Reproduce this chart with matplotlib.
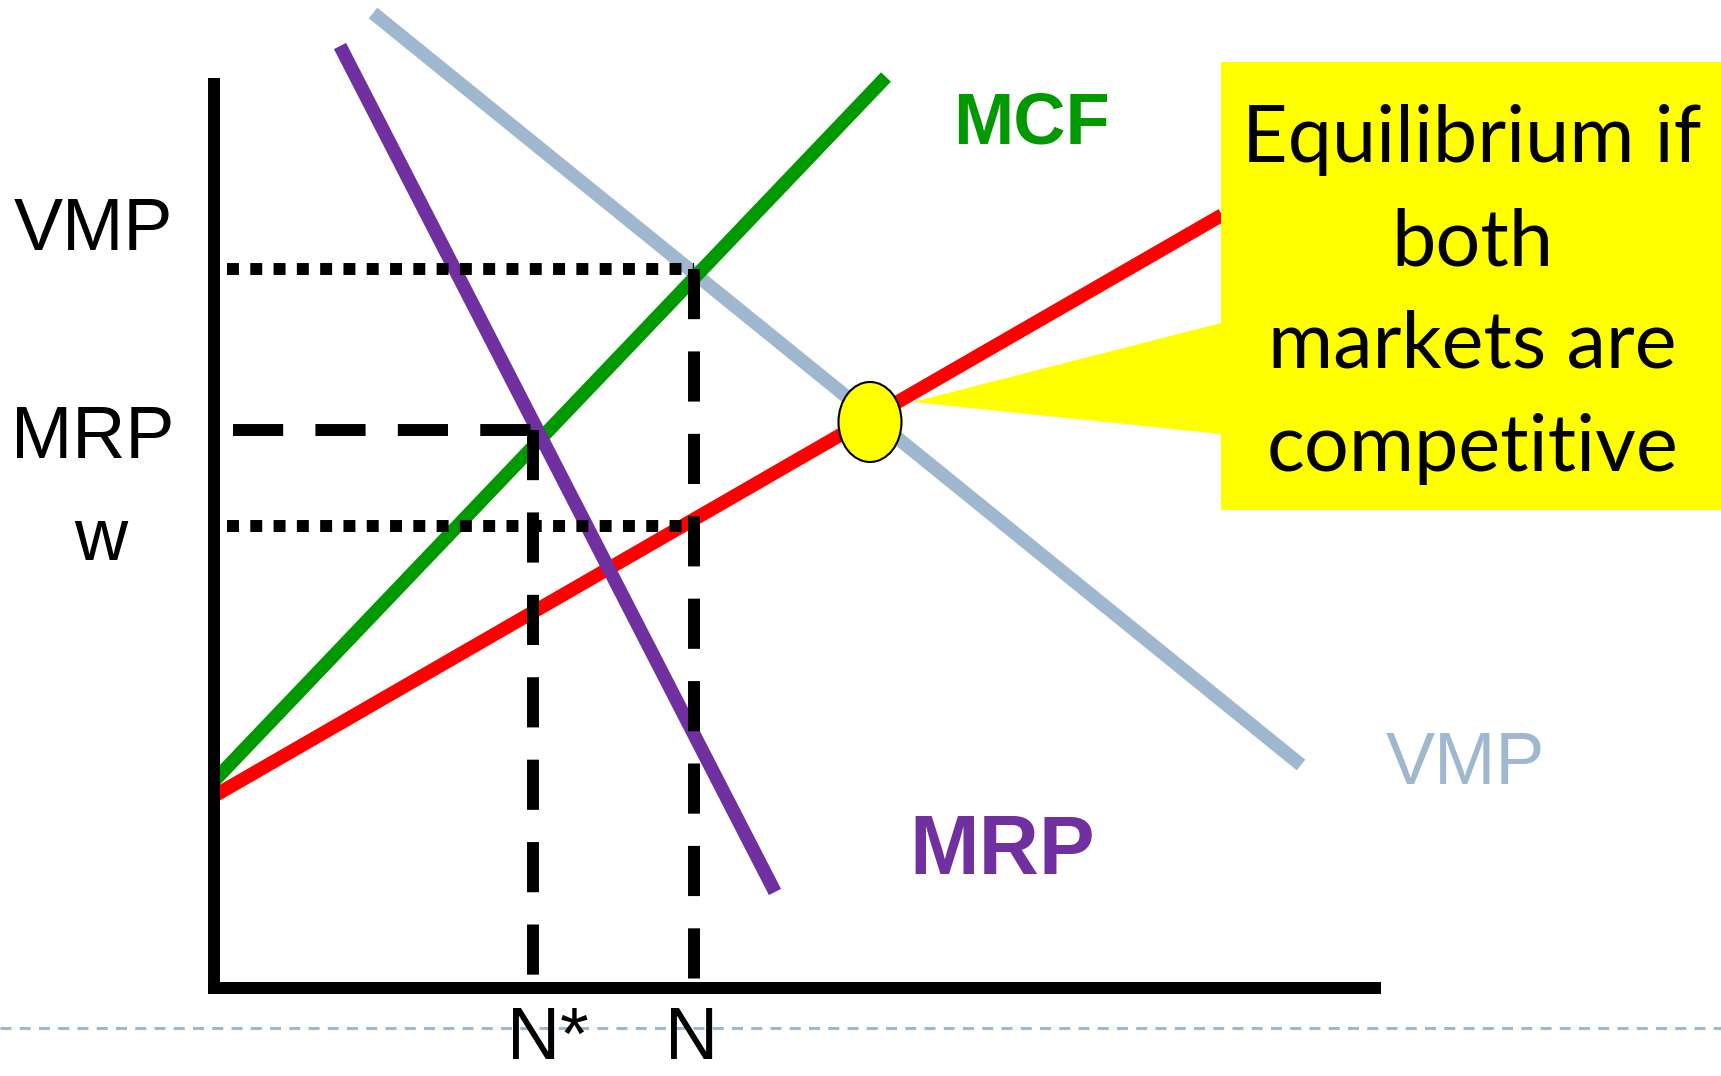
import numpy as np
import matplotlib.pyplot as plt
from matplotlib.patches import Polygon, Ellipse

# curve end points (picture coordinates, y down)
vmp_x = [373, 1301]
vmp_y = [13, 765]
mcf_x = [214, 886]
mcf_y = [781, 77]
sup_x = [214, 1222]
sup_y = [796, 215]
mrp_x = [340, 775]
mrp_y = [46, 892]

# guide lines
vmp_level = 269
mrp_level = 430
w_level = 526
n_star = 533
n_val = 694

callout_lines = ['Equilibrium if', 'both', 'markets are', 'competitive']

fig = plt.figure(figsize=(17.21, 10.76), dpi=100)
ax = fig.add_axes([0, 0, 1, 1])
ax.set_xlim(0, 1721)
ax.set_ylim(1076, 0)
ax.axis('off')

arial = 'Liberation Sans'
lw = 9.8

# curves
ax.plot(vmp_x, vmp_y, color='#A0B8CF', lw=lw, solid_capstyle='butt', zorder=1)
ax.plot(mcf_x, mcf_y, color='#009900', lw=lw, solid_capstyle='butt', zorder=2)
ax.plot(sup_x, sup_y, color='#FF0000', lw=lw, solid_capstyle='butt', zorder=3)
ax.plot(mrp_x, mrp_y, color='#7030A0', lw=lw, solid_capstyle='butt', zorder=4)

# axes
ax.plot([214, 214], [78, 988], color='black', lw=8.6, solid_capstyle='butt', zorder=6)
ax.plot([208, 1381], [988, 988], color='black', lw=8.6, solid_capstyle='butt', zorder=6)

# dotted levels
ax.plot([227, n_val], [vmp_level, vmp_level], color='black', lw=8.6,
        dashes=(1, 0.95), dash_capstyle='butt', zorder=5)
ax.plot([227, n_val], [w_level, w_level], color='black', lw=8.6,
        dashes=(1, 0.95), dash_capstyle='butt', zorder=5)

# dashed lines
ax.plot([233, n_star], [mrp_level, mrp_level], color='black', lw=8.6,
        dashes=(4.2, 2.7), dash_capstyle='butt', zorder=5)
ax.plot([n_star, n_star], [mrp_level, 982], color='black', lw=8.6,
        dashes=(4.2, 2.7), dash_capstyle='butt', zorder=5)
ax.plot([n_val, n_val], [vmp_level, 988], color='black', lw=8.6,
        dashes=(4.2, 2.7), dash_capstyle='butt', zorder=5)

# slide footer line
ax.plot([0, 1721], [1028, 1028], color='#A0B8CF', lw=2.2, dashes=(3.6, 2.7), zorder=0)

# axis labels
ax.text(93, 230, 'VMP', fontsize=53, family=arial, ha='center', va='center')
ax.text(93, 439, 'MRP', fontsize=53, family=arial, ha='center', va='center')
ax.text(101, 560, 'w', fontsize=53, family=arial, ha='center', va='baseline')
ax.text(548, 1074, 'N*', fontsize=53, family=arial, ha='center', va='bottom')
ax.text(692, 1074, 'N', fontsize=53, family=arial, ha='center', va='bottom')

# curve labels
ax.text(953, 144, 'MCF', fontsize=52, family=arial, fontweight='bold',
        color='#009900', ha='left', va='baseline')
ax.text(909, 874, 'MRP', fontsize=60, family=arial, fontweight='bold',
        color='#7030A0', ha='left', va='baseline')
ax.text(1386, 784, 'VMP', fontsize=53, family=arial,
        color='#A0B8CF', ha='left', va='baseline')

# callout
box = Polygon([(1221, 62), (1721, 62), (1721, 510), (1221, 510),
               (1221, 434), (913, 402), (1221, 323)],
              closed=True, facecolor='#FFFF00', edgecolor='none', zorder=7)
ax.add_patch(box)
ax.add_patch(Ellipse((870, 422), 63, 80, facecolor='#FFFF00',
                     edgecolor='black', lw=1.5, zorder=8))

for i, s in enumerate(callout_lines):
    ax.text(1472, 162 + i * 103, s, fontsize=57, family='Lato',
            ha='center', va='baseline', zorder=9)

fig.savefig('out.png', dpi=100)
